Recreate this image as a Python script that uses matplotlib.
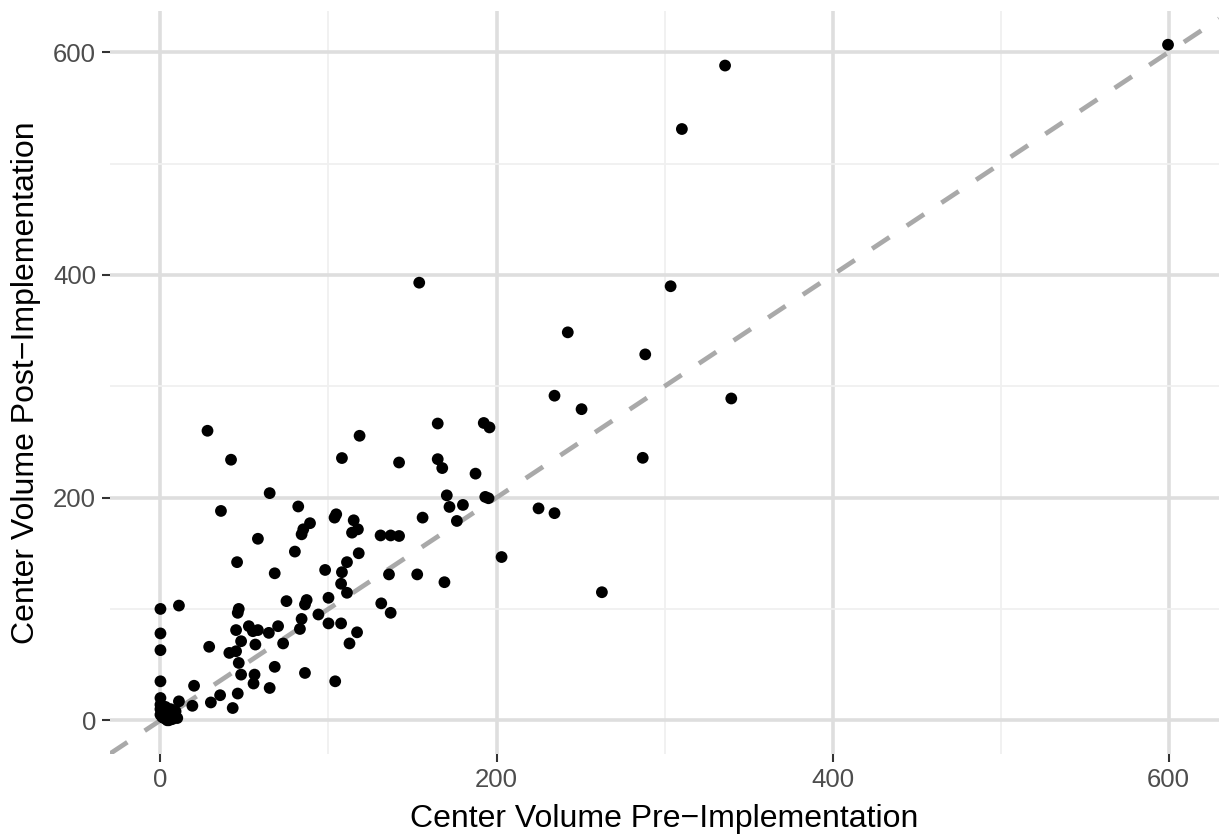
import numpy as np
import matplotlib
matplotlib.use('Agg')
import matplotlib.pyplot as plt

# center volumes before / after implementation
pre_volume = [
    0, 0, 0, 0, 0, 0, 0, 0, 1, 2, 2, 3, 3, 4, 5, 5, 6, 6, 7, 8, 9, 10,
    11, 11, 19, 20, 29, 30, 35.5, 41, 43, 45, 45, 46, 46, 46.6, 46.6, 48,
    48, 52.6, 55, 55.4, 56, 56.5, 58, 64.5, 65, 68, 68, 70, 73, 75, 83,
    84, 86, 86, 87, 94, 28, 42, 65, 36, 82, 104.6, 103.6, 118.5, 108,
    142, 115, 117.5, 114, 131, 137, 142, 58, 89, 85, 84, 80, 45.6, 98,
    108, 111, 118, 107.5, 111, 136, 100, 131.4, 137, 100, 107.5, 117,
    112.5, 104, 234.5, 165, 192.4, 195.8, 165, 167.7, 187.5, 170.4, 193.3,
    195.2, 172, 180, 225, 234.5, 156, 176.4, 152.8, 169, 203, 303.6,
    242.4, 288.5, 250.6, 339.7, 287, 262.7, 310.3, 336, 154, 599.6,
]
post_volume = [
    100, 78, 63, 35, 20, 14, 10, 5, 3, 2, 7, 8, 12, 0, 0, 3, 6, 10, 1, 4,
    8, 2, 103, 17, 13, 31, 66, 16, 22.5, 60.5, 11, 62, 81, 96.5, 24, 100,
    51.5, 71, 41, 84.5, 80, 33, 41, 68, 81, 78.5, 29, 132, 48, 84.5, 69,
    107, 82, 91, 104, 42.5, 108, 95, 260, 234, 204, 188, 192, 185, 182,
    255.5, 235.5, 231.5, 179.6, 171.5, 168.5, 166, 166, 165.5, 163, 177,
    171.5, 167, 151.5, 142, 135, 133, 142, 150, 122.6, 114.5, 131, 110,
    105, 96.5, 87, 87, 79, 69, 35, 291.5, 266.5, 267, 263, 234.5, 226.5,
    221.5, 202, 200.6, 199.4, 191.6, 193.4, 190.3, 186, 182, 179, 131,
    124, 146.6, 389.8, 348.4, 328.6, 279.4, 289, 235.7, 115, 531, 588,
    393, 606.7,
]

plt.rcParams['font.family'] = ['Liberation Sans', 'DejaVu Sans']

fig = plt.figure(figsize=(12.24, 8.39), dpi=100)
ax = fig.add_axes([0.0899, 0.1013, 0.9061, 0.8856])

ax.set_xlim(-30, 630)
ax.set_ylim(-30.3, 637)

# reference line y = x
ax.axline((0, 0), slope=1, color='#A9A9A9', lw=3.4,
          linestyle=(0, (4.4, 4.4)), zorder=2)

ax.scatter(pre_volume, post_volume, s=72, color='black',
           edgecolors='none', zorder=3)

ax.set_xticks([0, 200, 400, 600])
ax.set_yticks([0, 200, 400, 600])
ax.set_xticks([100, 300, 500], minor=True)
ax.set_yticks([100, 300, 500], minor=True)
ax.grid(which='major', color='#DEDEDE', lw=2.6, zorder=0)
ax.grid(which='minor', color='#F0F0F0', lw=1.3, zorder=0)
ax.set_axisbelow(True)

for s in ax.spines.values():
    s.set_visible(False)
ax.tick_params(which='major', length=5.5, width=1.5, color='#333333',
               labelsize=18.5, labelcolor='#4D4D4D', pad=4.5)
ax.tick_params(which='minor', length=0)

ax.set_xlabel('Center Volume Pre\u2212Implementation', fontsize=23,
              color='black', labelpad=9)
ax.set_ylabel('Center Volume Post\u2212Implementation', fontsize=23,
              color='black', labelpad=9)

fig.savefig('out.png', dpi=100)
